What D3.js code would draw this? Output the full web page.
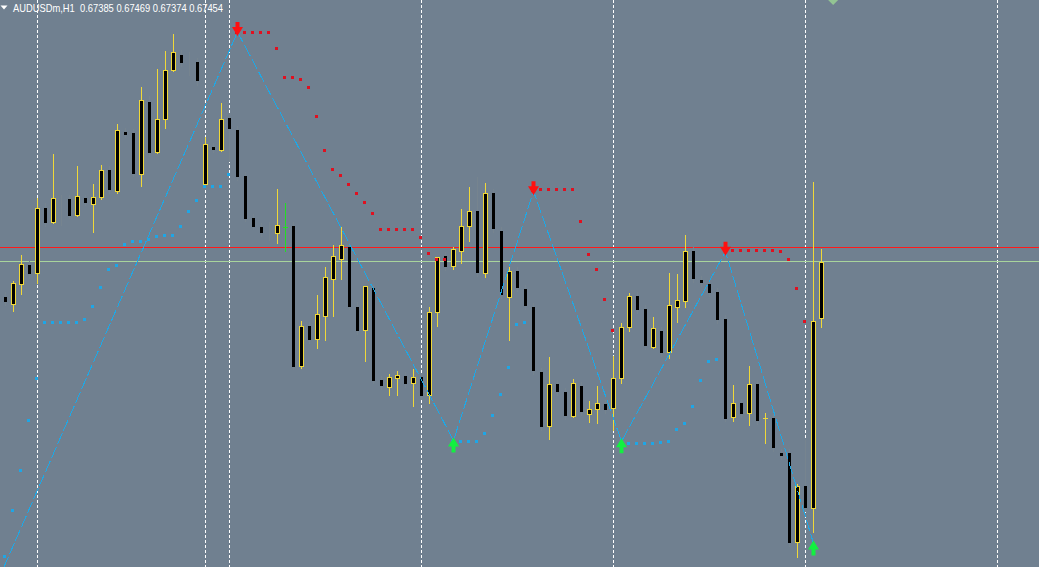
<!DOCTYPE html>
<html><head><meta charset="utf-8">
<script src="https://cdn.jsdelivr.net/npm/d3@7"></script>
<style>html,body{margin:0;padding:0;background:#708090;overflow:hidden}svg{display:block}</style>
</head><body>
<svg id="c" width="1039" height="567"></svg>
<script>
// ---- data ----
const symbolTitle = "AUDUSDm,H1";
const lastBarText = ["0.67385", "0.67469", "0.67374", "0.67454"];
const askPrice = 0.67471;

const opens = [
0.67410,0.67402,0.67426,0.67450,0.67440,0.67519,0.67502,0.67523,0.67530,0.67511,
0.67532,0.67524,0.67533,0.67566,0.67540,0.67612,0.67611,0.67561,0.67649,0.67588,
0.67628,0.67688,0.67707,0.67701,0.67698,0.67549,0.67594,0.67590,0.67630,0.67615,
0.67559,0.67507,0.67496,0.67491,0.67489,0.67496,0.67497,0.67326,0.67375,0.67359,
0.67387,0.67433,0.67457,0.67472,0.67398,0.67370,0.67421,0.67309,0.67300,0.67311,
0.67314,0.67305,0.67313,0.67291,0.67392,0.67461,0.67448,0.67467,0.67497,0.67516,
0.67440,0.67538,0.67491,0.67410,0.67442,0.67420,0.67398,0.67319,0.67253,0.67304,
0.67294,0.67265,0.67302,0.67267,0.67273,0.67280,0.67275,0.67311,0.67374,0.67412,
0.67396,0.67349,0.67369,0.67343,0.67398,0.67406,0.67467,0.67431,0.67426,0.67417,
0.67384,0.67264,0.67281,0.67268,0.67304,0.67261,0.67262,0.67220,0.67220,0.67111,
0.67179,0.67152,0.67385];
const highs = [
0.67417,0.67430,0.67462,0.67456,0.67532,0.67526,0.67586,0.67535,0.67535,0.67571,
0.67535,0.67549,0.67572,0.67571,0.67622,0.67617,0.67616,0.67668,0.67656,0.67690,
0.67712,0.67732,0.67713,0.67710,0.67703,0.67606,0.67599,0.67648,0.67634,0.67620,
0.67563,0.67512,0.67501,0.67502,0.67543,0.67526,0.67502,0.67381,0.67380,0.67413,
0.67447,0.67474,0.67496,0.67477,0.67404,0.67424,0.67425,0.67314,0.67316,0.67320,
0.67319,0.67322,0.67317,0.67398,0.67459,0.67466,0.67472,0.67518,0.67545,0.67557,
0.67550,0.67543,0.67496,0.67447,0.67447,0.67425,0.67403,0.67324,0.67337,0.67309,
0.67299,0.67310,0.67306,0.67283,0.67302,0.67284,0.67338,0.67379,0.67415,0.67417,
0.67401,0.67386,0.67374,0.67440,0.67439,0.67486,0.67472,0.67436,0.67431,0.67421,
0.67388,0.67303,0.67286,0.67326,0.67309,0.67268,0.67267,0.67224,0.67224,0.67182,
0.67235,0.67551,0.67469];
const lows = [
0.67401,0.67393,0.67414,0.67434,0.67428,0.67497,0.67501,0.67499,0.67507,0.67510,
0.67523,0.67490,0.67530,0.67538,0.67538,0.67607,0.67559,0.67546,0.67583,0.67587,
0.67617,0.67687,0.67693,0.67682,0.67670,0.67546,0.67588,0.67589,0.67577,0.67554,
0.67503,0.67494,0.67485,0.67480,0.67477,0.67467,0.67322,0.67324,0.67354,0.67348,
0.67358,0.67387,0.67433,0.67396,0.67365,0.67332,0.67305,0.67298,0.67291,0.67291,
0.67300,0.67277,0.67286,0.67281,0.67375,0.67444,0.67445,0.67452,0.67479,0.67436,
0.67435,0.67490,0.67409,0.67358,0.67418,0.67396,0.67316,0.67248,0.67237,0.67291,
0.67261,0.67264,0.67266,0.67257,0.67256,0.67268,0.67248,0.67305,0.67369,0.67391,
0.67347,0.67348,0.67338,0.67336,0.67380,0.67398,0.67429,0.67424,0.67412,0.67379,
0.67259,0.67259,0.67264,0.67254,0.67255,0.67232,0.67222,0.67212,0.67106,0.67092,
0.67149,0.67123,0.67374];
const closes = [
0.67406,0.67428,0.67451,0.67440,0.67519,0.67502,0.67532,0.67522,0.67511,0.67534,
0.67527,0.67533,0.67566,0.67543,0.67615,0.67610,0.67562,0.67652,0.67588,0.67628,
0.67688,0.67710,0.67698,0.67700,0.67676,0.67598,0.67592,0.67628,0.67617,0.67559,
0.67507,0.67497,0.67490,0.67490,0.67499,0.67496,0.67326,0.67375,0.67359,0.67390,
0.67435,0.67461,0.67474,0.67399,0.67370,0.67424,0.67309,0.67303,0.67313,0.67315,
0.67305,0.67313,0.67291,0.67392,0.67459,0.67448,0.67469,0.67497,0.67516,0.67441,
0.67538,0.67495,0.67414,0.67442,0.67423,0.67401,0.67321,0.67253,0.67304,0.67295,
0.67266,0.67305,0.67271,0.67273,0.67281,0.67273,0.67311,0.67374,0.67412,0.67396,
0.67352,0.67373,0.67343,0.67401,0.67407,0.67467,0.67434,0.67429,0.67417,0.67384,
0.67262,0.67281,0.67268,0.67304,0.67260,0.67262,0.67227,0.67217,0.67111,0.67179,
0.67153,0.67381,0.67454];

// Parabolic SAR buffers (below price = blue, above price = red)
const n = null;
const sarBelow = [
0.67093,0.67150,0.67199,0.67260,0.67311,0.67380,0.67380,0.67380,0.67380,0.67380,
0.67384,0.67399,0.67423,0.67445,0.67450,0.67475,0.67479,0.67479,0.67481,0.67485,
0.67486,0.67486,0.67497,0.67516,0.67529,0.67546,0.67546,0.67546,0.67561,n,
n,n,n,n,n,n,n,n,n,n,
n,n,n,n,n,n,n,n,n,n,
n,n,n,n,n,n,0.67234,0.67234,0.67234,0.67234,
0.67244,0.67266,0.67292,0.67325,0.67377,0.67380,n,n,n,n,
n,n,n,n,n,n,n,0.67232,0.67232,0.67232,
0.67232,0.67232,0.67233,0.67234,0.67249,0.67256,0.67277,0.67309,0.67332,0.67335,
n,n,n,n,n,n,n,n,n,n,
n,0.67107,n];
const sarAbove = [
n,n,n,n,n,n,n,n,n,n,
n,n,n,n,n,n,n,n,n,n,
n,n,n,n,n,n,n,n,n,0.67735,
0.67735,0.67735,0.67735,0.67735,0.67715,0.67680,0.67680,0.67677,0.67668,0.67632,
0.67590,0.67567,0.67560,0.67549,0.67538,0.67527,0.67513,0.67494,0.67494,0.67494,
0.67494,0.67494,0.67484,0.67464,0.67457,0.67457,n,n,n,n,
n,n,n,n,n,n,0.67541,0.67543,0.67543,0.67543,
0.67543,0.67543,0.67503,0.67463,0.67445,0.67408,0.67370,n,n,n,
n,n,n,n,n,n,n,n,n,n,
0.67468,0.67468,0.67468,0.67468,0.67468,0.67468,0.67468,0.67467,0.67457,0.67421,
0.67381,n,n];

// ZigZag vertices
const zzIndex = [-1, 29, 56, 66, 77, 90, 101];
const zzPrice = [0.67062, 0.67735, 0.67235, 0.67540, 0.67234, 0.67466, 0.67109];

// period separators (bar indices)
const separators = [4, 25, 28, 52, 76, 100, 124];
const topMarker = {i: 103.45, price: 0.67774};

// ---- layout ----
const W = 1039, H = 567;
const BG = "#708090", BULL = "#f0d838", BODY = "#000000", BEARWICK = "#76848f",
      DOJI = "#22e022", ZZ = "#1ea8e6", SAR_UP = "#1ea6e6", SAR_DN = "#e01020";

const x = d3.scaleLinear().domain([0, 1]).range([5.5, 13.5]);
const y = d3.scaleLinear().domain([0.670801, 0.677741]).range([H, 0]);
const snap = v => Math.round(v - 0.5) + 0.5;

const svg = d3.select("#c");
svg.append("rect").attr("width", W).attr("height", H).attr("fill", BG);

// separators
svg.append("g").attr("shape-rendering", "crispEdges").selectAll("line").data(separators).join("line")
  .attr("x1", d => snap(x(d))).attr("x2", d => snap(x(d))).attr("y1", 0).attr("y2", H)
  .attr("stroke", "#ffffff").attr("stroke-width", 1).attr("stroke-dasharray", "3,2");

// ask / bid lines
const bid = closes[closes.length - 1];
const gL = svg.append("g").attr("shape-rendering", "crispEdges");
gL.append("line").attr("x1", 0).attr("x2", W).attr("y1", snap(y(askPrice))).attr("y2", snap(y(askPrice)))
  .attr("stroke", "#ff1a1a").attr("stroke-width", 1);
gL.append("line").attr("x1", 0).attr("x2", W).attr("y1", snap(y(bid))).attr("y2", snap(y(bid)))
  .attr("stroke", "#a8d49c").attr("stroke-width", 1);

// candles
const bars = d3.range(opens.length).map(i => ({i, o: opens[i], h: highs[i], l: lows[i], c: closes[i]}));
const gC = svg.append("g").attr("shape-rendering", "crispEdges");
bars.forEach(b => {
  const cx = snap(x(b.i));
  const yH = Math.round(y(b.h)), yL = Math.round(y(b.l));
  const bull = b.c > b.o, doji = b.c === b.o;
  const wickColor = doji ? DOJI : (bull ? BULL : BEARWICK);
  gC.append("line").attr("x1", cx).attr("x2", cx).attr("y1", yH).attr("y2", yL + 1)
    .attr("stroke", wickColor).attr("stroke-width", 1);
  const yT = Math.round(y(Math.max(b.o, b.c))), yB = Math.round(y(Math.min(b.o, b.c)));
  const rawH = Math.abs(y(b.o) - y(b.c));
  if (doji) {
    gC.append("rect").attr("x", cx - 2.5).attr("y", yT).attr("width", 5).attr("height", 1).attr("fill", DOJI);
  } else if (bull) {
    if (rawH < 1) {
      gC.append("rect").attr("x", cx - 2.5).attr("y", yT).attr("width", 5).attr("height", 1).attr("fill", BULL);
    } else {
      const hgt = Math.max(2, yB - yT + 1);
      gC.append("rect").attr("x", cx - 2.5).attr("y", yT).attr("width", 5).attr("height", hgt).attr("fill", BULL);
      if (hgt > 2) gC.append("rect").attr("x", cx - 1.5).attr("y", yT + 1).attr("width", 3).attr("height", hgt - 2).attr("fill", BODY);
    }
  } else if (rawH >= 1) {
    gC.append("rect").attr("x", cx - 1.5).attr("y", yT).attr("width", 3).attr("height", yB - yT + 1)
      .attr("fill", BODY);
  }
});

// zigzag
svg.append("path")
  .attr("d", d3.line()(zzIndex.map((d, k) => [x(d), y(zzPrice[k])])))
  .attr("fill", "none").attr("stroke", ZZ).attr("stroke-width", 1).attr("stroke-dasharray", "12,3")
  .attr("shape-rendering", "crispEdges");

// SAR dots
function dots(arr, color) {
  svg.append("g").attr("shape-rendering", "crispEdges").selectAll("rect")
    .data(arr.map((p, i) => ({p, i})).filter(d => d.p !== null)).join("rect")
    .attr("x", d => snap(x(d.i)) - 2.5).attr("y", d => Math.round(y(d.p)) - 1)
    .attr("width", 3).attr("height", 3).attr("fill", color);
}
dots(sarBelow, SAR_UP);
dots(sarAbove, SAR_DN);

// arrows at zigzag turning points
const gA = svg.append("g");
zzIndex.forEach((idx, k) => {
  if (idx < 0) return;
  const prev = zzPrice[k - 1], p = zzPrice[k];
  const cx = x(idx), vy = y(p);
  if (p > prev) { // high -> red down arrow
    const tip = vy + 4;
    gA.append("path").attr("fill", "#ff1010")
      .attr("d", `M${cx - 2},${tip - 14}H${cx + 2}V${tip - 9}H${cx + 5.5}L${cx},${tip}L${cx - 5.5},${tip - 9}H${cx - 2}Z`);
  } else { // low -> green up arrow
    const tip = vy - 3;
    gA.append("path").attr("fill", "#12f040")
      .attr("d", `M${cx - 2},${tip + 15}H${cx + 2}V${tip + 9}H${cx + 5.5}L${cx},${tip}L${cx - 5.5},${tip + 9}H${cx - 2}Z`);
  }
});

// top marker
const mx = x(topMarker.i), my = y(topMarker.price);
svg.append("path").attr("fill", "#93c493")
  .attr("d", `M${mx - 5},${my}L${mx},${my + 5}L${mx + 5},${my}L${mx},${my - 5}Z`);

// title
svg.append("path").attr("d", "M0.5,5.5L7.5,5.5L4,9.5Z").attr("fill", "#ffffff");
svg.append("text").attr("x", 13).attr("y", 11.5)
  .attr("fill", "#ffffff").attr("font-family", "Liberation Sans, Arial, sans-serif").attr("font-size", "11.5px")
  .attr("textLength", 210).attr("lengthAdjust", "spacingAndGlyphs")
  .style("white-space", "pre")
  .text(symbolTitle + "  " + lastBarText.join(" "));
</script>
</body></html>
